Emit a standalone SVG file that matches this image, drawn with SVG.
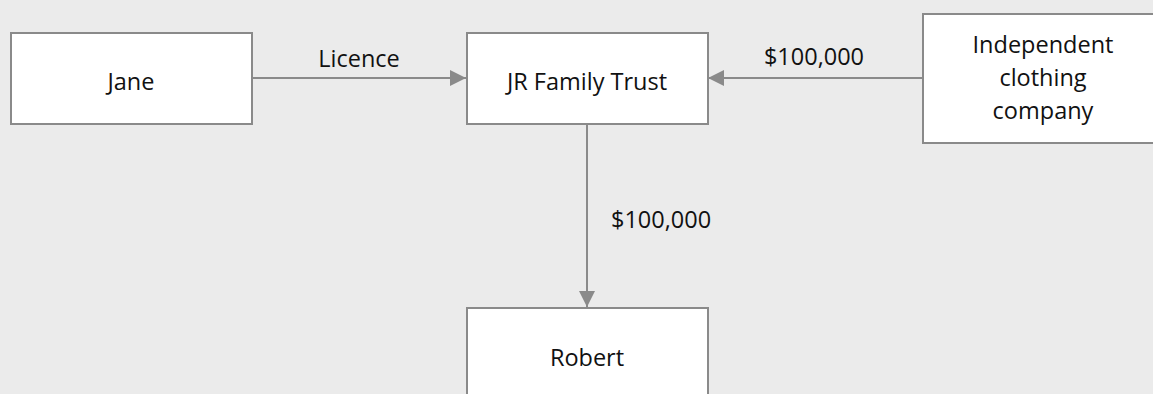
<svg xmlns="http://www.w3.org/2000/svg" width="1153" height="394" viewBox="0 0 1153 394">
<style>
.box{fill:#fff;stroke:#8a8a8a;stroke-width:2}
.lbl{font-family:"Open Sans","Liberation Sans",sans-serif;font-size:23.5px;fill:#111;text-anchor:middle}
.edge{stroke:#8a8a8a;stroke-width:2;fill:none}
</style>
<defs>
<marker id="ah2" viewBox="0 0 16 16" refX="16" refY="8" markerWidth="16" markerHeight="16" markerUnits="userSpaceOnUse" orient="auto">
<path d="M0,0 L16,8 L0,16 Z" fill="#8a8a8a"/>
</marker>
</defs>
<rect width="1153" height="394" fill="#ebebeb"/>
<g id="connectors">
<line class="edge" x1="252" y1="78" x2="466" y2="78" marker-end="url(#ah2)"/>
<line class="edge" x1="922" y1="78" x2="708" y2="78" marker-end="url(#ah2)"/>
<line class="edge" x1="587" y1="124" x2="587" y2="307" marker-end="url(#ah2)"/>
<text class="lbl" x="359" y="67">Licence</text>
<text class="lbl" x="814" y="65">$100,000</text>
<text class="lbl" x="611" y="228" style="text-anchor:start">$100,000</text>
</g>
<g id="jane">
<rect class="box" x="11" y="33" width="241" height="91"/>
<text class="lbl" x="131" y="90">Jane</text>
</g>
<g id="trust">
<rect class="box" x="467" y="33" width="241" height="91"/>
<text class="lbl" x="587" y="90">JR Family Trust</text>
</g>
<g id="company">
<rect class="box" x="923" y="14" width="241" height="129"/>
<text class="lbl" x="1043" y="53">Independent</text>
<text class="lbl" x="1043" y="86">clothing</text>
<text class="lbl" x="1043" y="119">company</text>
</g>
<g id="robert">
<rect class="box" x="467" y="308" width="241" height="91"/>
<text class="lbl" x="587" y="366">Robert</text>
</g>
</svg>
